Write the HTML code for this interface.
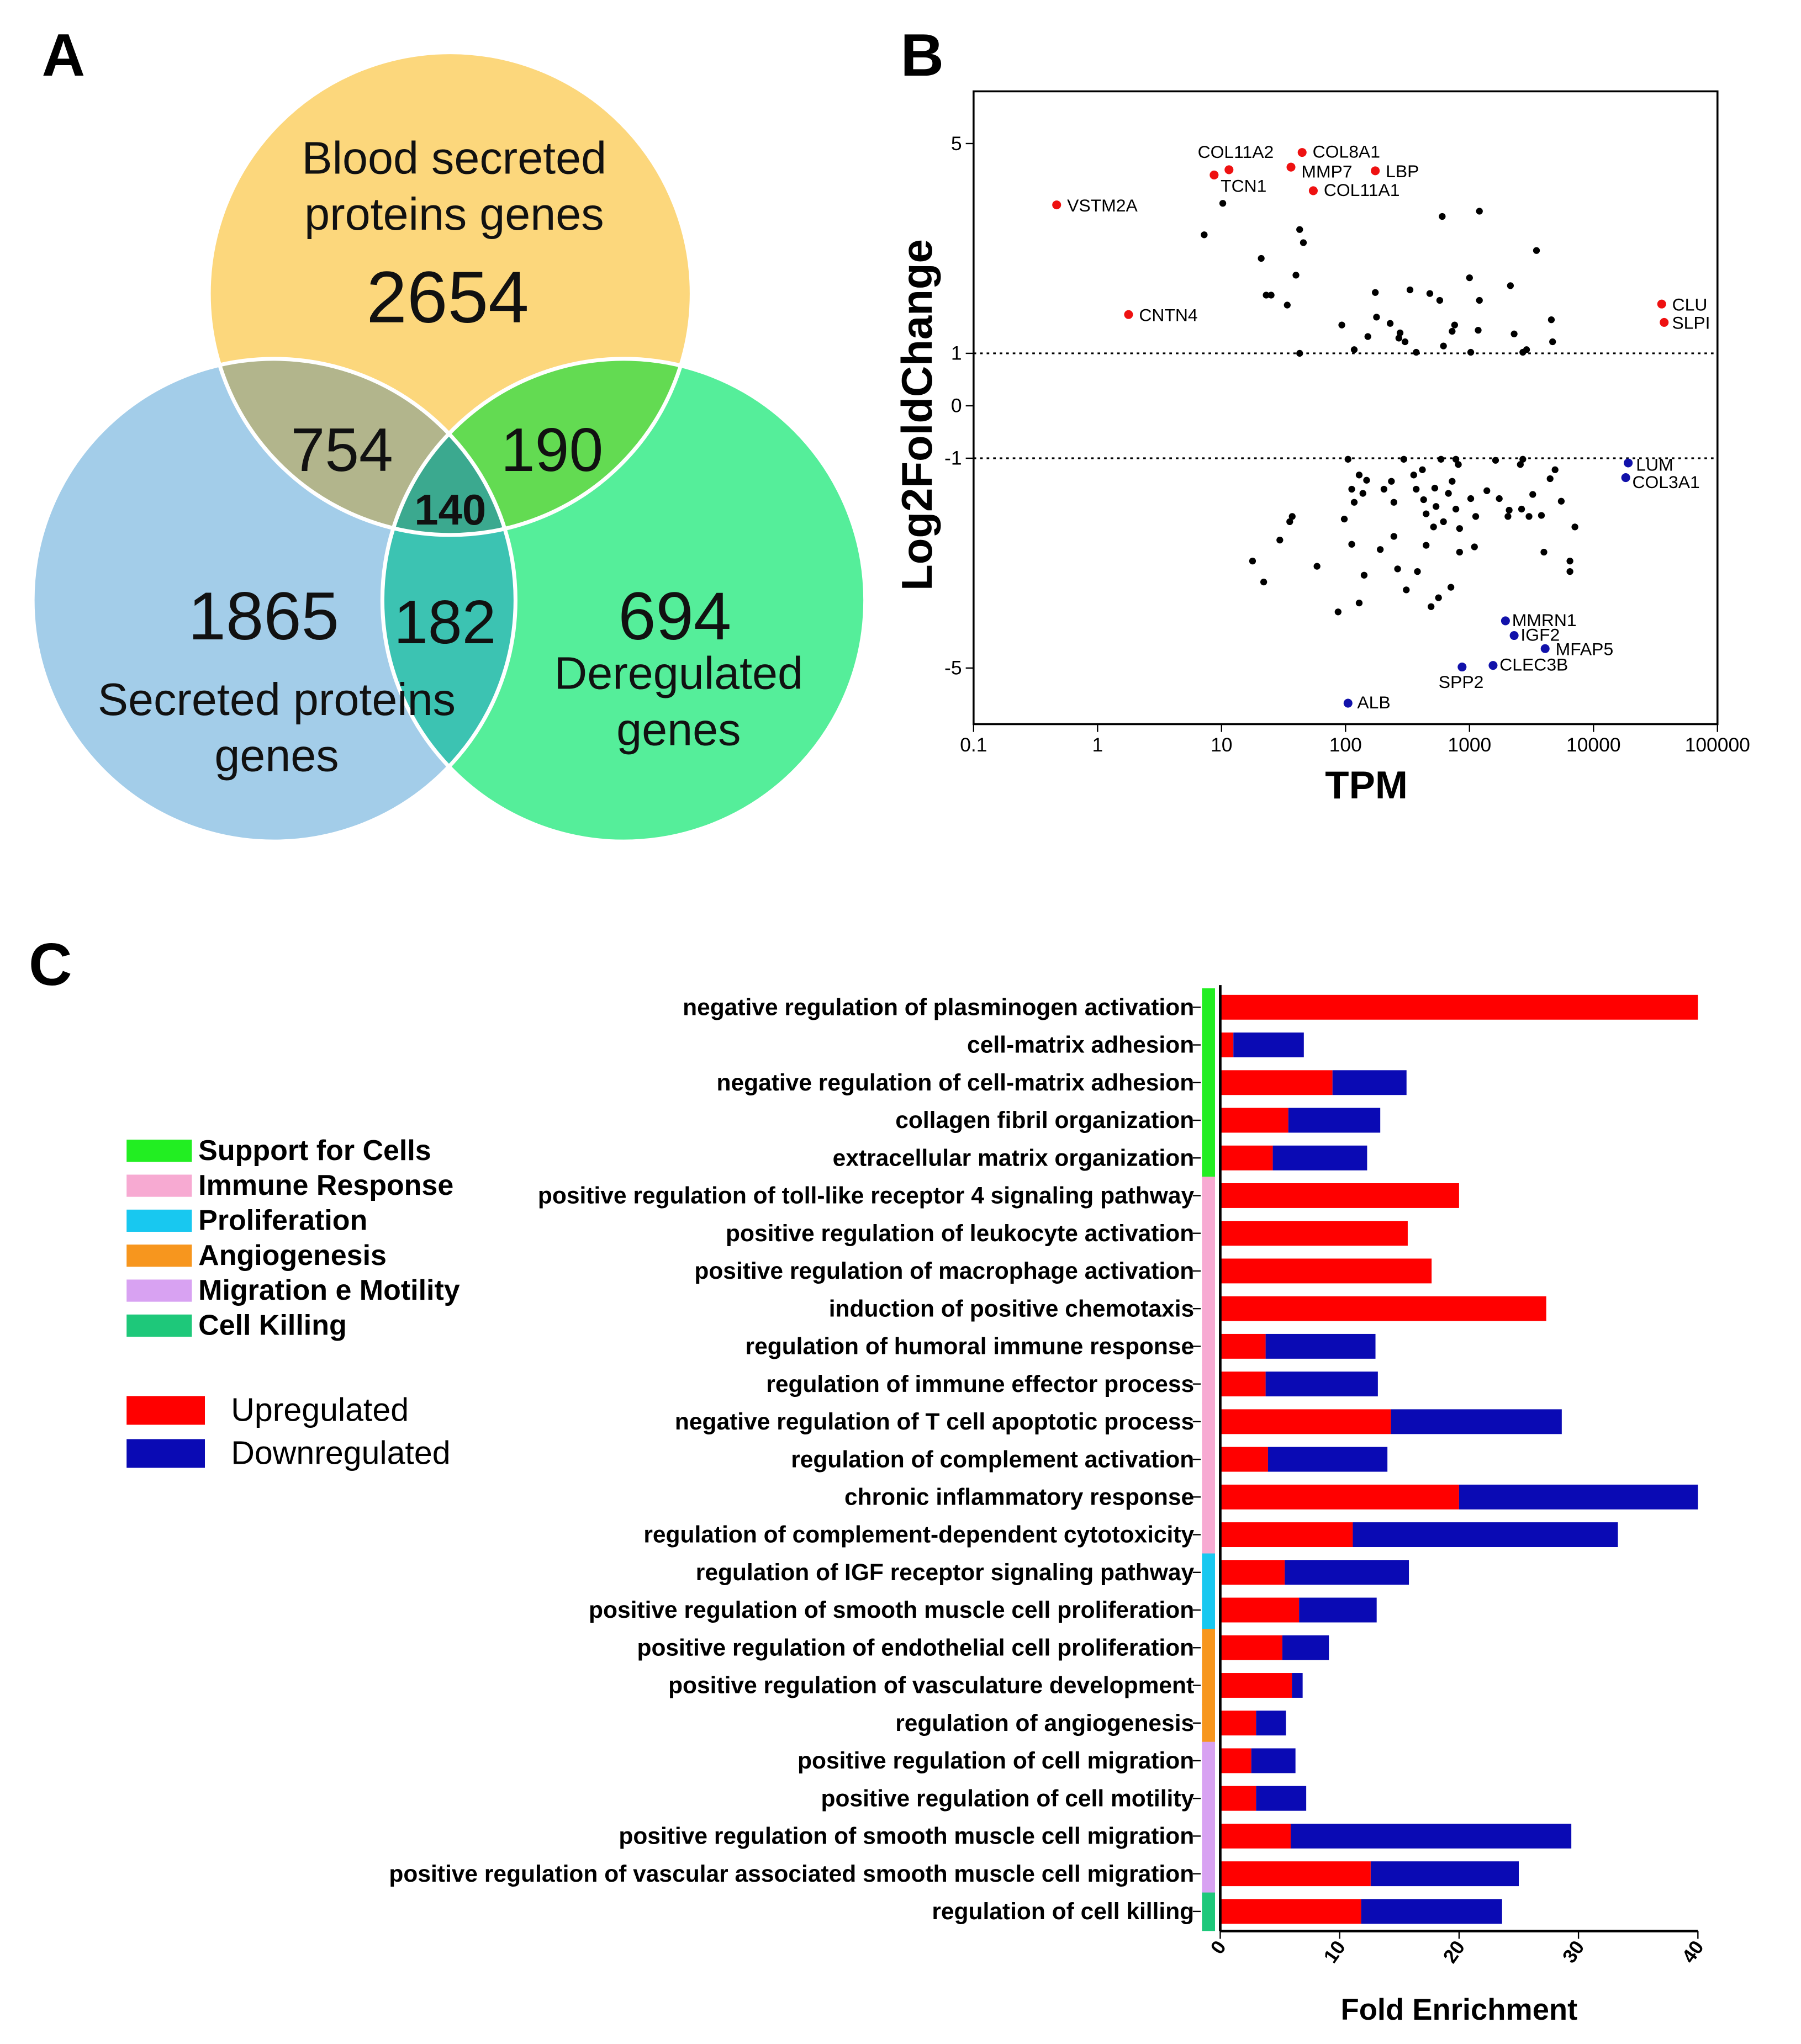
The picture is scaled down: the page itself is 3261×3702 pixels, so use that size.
<!DOCTYPE html>
<html><head><meta charset="utf-8"><style>
html,body{margin:0;padding:0;background:#fff}
svg{display:block}
text{font-family:"Liberation Sans",Arial,sans-serif}
</style></head><body>
<svg id="fig" xmlns="http://www.w3.org/2000/svg" width="3261" height="3702" viewBox="0 0 1380 1566.6">
<defs>
<clipPath id="cY"><circle cx="345" cy="225" r="185"/></clipPath>
<clipPath id="cB"><circle cx="210" cy="460" r="185"/></clipPath>
<clipPath id="cG"><circle cx="478" cy="460" r="185"/></clipPath>
</defs>
<g>
<text x="32" y="58" font-size="46" font-weight="bold">A</text>
<circle cx="345" cy="225" r="185" fill="#FCD77C"/>
<circle cx="210" cy="460" r="185" fill="#A3CDE9"/>
<circle cx="478" cy="460" r="185" fill="#55EE9A"/>
<g clip-path="url(#cY)"><circle cx="210" cy="460" r="185" fill="#B2B58C"/><circle cx="478" cy="460" r="185" fill="#63DB52"/></g>
<g clip-path="url(#cB)"><circle cx="478" cy="460" r="185" fill="#3CC3B2"/></g>
<g clip-path="url(#cY)"><g clip-path="url(#cB)"><circle cx="478" cy="460" r="185" fill="#3BA98F"/></g></g>
<g fill="none" stroke="#fff" stroke-width="3">
<circle cx="345" cy="225" r="185"/><circle cx="210" cy="460" r="185"/><circle cx="478" cy="460" r="185"/></g>
<g text-anchor="middle" fill="#111">
<text x="348" y="133" font-size="35">Blood secreted</text>
<text x="348" y="176" font-size="35">proteins genes</text>
<text x="343" y="247" font-size="56">2654</text>
<text x="262" y="361" font-size="47">754</text>
<text x="423" y="361" font-size="47">190</text>
<text x="345" y="402" font-size="33" font-weight="bold">140</text>
<text x="202" y="490" font-size="52">1865</text>
<text x="341" y="493" font-size="47">182</text>
<text x="517" y="490" font-size="52">694</text>
<text x="212" y="548" font-size="35">Secreted proteins</text>
<text x="212" y="591" font-size="35">genes</text>
<text x="520" y="528" font-size="35">Deregulated</text>
<text x="520" y="571" font-size="35">genes</text>
</g>
</g>
<g id="pb">
<text x="690" y="58" font-size="46" font-weight="bold">B</text>
<rect x="746" y="70" width="570" height="485" fill="none" stroke="#000" stroke-width="1.5"/>
<text x="1047" y="622" font-size="30" font-weight="bold" text-anchor="middle" transform="translate(0,-10)">TPM</text>
<text transform="translate(714,318) rotate(-90)" font-size="33" font-weight="bold" text-anchor="middle">Log2FoldChange</text>
</g>
<g id="pc">
<text x="22" y="755" font-size="46" font-weight="bold">C</text>
<text x="1118" y="1548" font-size="23" font-weight="bold" text-anchor="middle">Fold Enrichment</text>
</g>
</svg>
<script>
const NS="http://www.w3.org/2000/svg";
// ---- Panel B data ----
const xTicks=["0.1","1","10","100","1000","10000","100000"];
const xTickLog=[-1,0,1,2,3,4,5];
const yTicks=[5,1,0,-1,-5];
const bgLogTPM=[1.01,0.86,1.32,1.63,1.66,1.36,1.40,1.60,1.53,1.63,1.97,2.24,2.25,2.07,2.18,2.36,2.44,2.48,2.52,2.57,2.68,2.76,2.78,2.79,2.86,2.88,3.00,3.01,3.08,3.07,3.08,3.33,3.36,3.43,3.46,3.54,3.66,3.67,2.43,
2.02,2.47,2.77,2.89,2.91,3.21,3.41,3.43,3.69,2.05,2.07,2.14,2.17,2.11,2.31,2.37,2.39,2.55,2.57,2.62,2.63,2.65,2.71,2.72,2.73,2.79,2.83,2.86,2.89,2.92,3.01,3.05,3.14,3.24,3.31,3.32,3.42,3.51,3.48,3.58,3.65,3.74,3.85,1.57,1.55,1.47,1.34,1.25,1.77,1.99,2.05,2.28,2.39,2.42,2.49,2.58,2.65,2.69,2.75,2.85,2.92,3.04,3.60,3.81,3.81,1.94,2.11,2.15];
const bgLFC=[3.86,3.26,2.81,3.36,3.11,2.11,2.11,2.49,1.92,1.00,1.54,2.16,1.69,1.07,1.32,1.57,1.39,1.22,2.21,1.02,2.14,2.01,3.61,1.14,1.42,1.54,2.44,1.02,3.71,1.44,2.01,2.29,1.37,1.02,1.07,2.96,1.64,1.22,1.29,
-1.02,-1.02,-1.02,-1.02,-1.12,-1.04,-1.12,-1.02,-1.22,-1.59,-1.84,-1.67,-1.42,-1.32,-1.59,-1.44,-1.84,-1.32,-1.59,-1.22,-1.79,-2.06,-2.31,-1.57,-1.92,-2.21,-1.67,-1.44,-1.97,-2.34,-1.77,-2.11,-1.62,-1.77,-2.11,-1.99,-1.97,-1.69,-2.11,-2.09,-1.39,-1.82,-2.31,-2.11,-2.21,-2.56,-3.36,-2.96,-3.06,-2.16,-2.64,-2.74,-2.49,-3.11,-3.51,-3.16,-2.66,-3.83,-3.66,-3.46,-2.79,-2.69,-2.79,-2.96,-3.16,-3.93,-3.76,-3.23];
const geneNames=["VSTM2A","COL11A2","TCN1","COL8A1","MMP7","LBP","COL11A1","CNTN4","CLU","SLPI","LUM","COL3A1","MMRN1","IGF2","MFAP5","CLEC3B","SPP2","ALB"];
const geneLogTPM=[-0.33,1.06,0.94,1.65,1.56,2.24,1.74,0.25,4.55,4.57,4.28,4.26,3.29,3.36,3.61,3.19,2.94,2.02];
const geneLFC=[3.83,4.5,4.4,4.83,4.55,4.48,4.1,1.74,1.94,1.59,-1.09,-1.37,-4.1,-4.38,-4.63,-4.95,-4.98,-5.67];
const geneDir=["up","up","up","up","up","up","up","up","up","up","down","down","down","down","down","down","down","down"];
const labOff=[[8,5],[-24,-9],[5,13],[8,4],[8,8],[8,5],[8,4],[8,5],[8,5],[6,5],[6,6],[5,8],[5,4],[5,4],[8,5],[5,4],[-18,16],[7,4]];
const sx=l=>841+95*l, sy=v=>311-40.2*v;
const pb=document.getElementById('pb');
function mk(tag,at,parent){const e=document.createElementNS(NS,tag);for(const k in at)e.setAttribute(k,at[k]);(parent||pb).appendChild(e);return e;}
xTickLog.forEach((l,i)=>{
 const t=mk('line',{x1:sx(l),x2:sx(l),y1:555,y2:561,stroke:'#000'});
 
 
 const tx=mk('text',{x:sx(l),y:576,'font-size':15,'text-anchor':'middle'});tx.textContent=xTicks[i];
 
 
});
yTicks.forEach(v=>{
 mk('line',{x1:740,x2:746,y1:sy(v),y2:sy(v),stroke:'#000'});
 const tx=mk('text',{x:737,y:sy(v)+5,'font-size':15,'text-anchor':'end'});tx.textContent=v;
 
 
});
[1,-1].forEach(v=>{const l=mk('line',{x1:746,x2:1316,y1:sy(v),y2:sy(v),stroke:'#000','stroke-width':1.3,'stroke-dasharray':'2,3'});
 
 });
bgLogTPM.forEach((l,i)=>{const c=mk('circle',{cx:sx(l),cy:sy(bgLFC[i]),r:2.6,fill:'#000'});
 
 });
geneNames.forEach((g,i)=>{
 const c=mk('circle',{cx:sx(geneLogTPM[i]),cy:sy(geneLFC[i]),r:3.4,fill:geneDir[i]=='up'?'#ee1111':'#1111aa'});
 
 
 const t=mk('text',{x:sx(geneLogTPM[i])+labOff[i][0],y:sy(geneLFC[i])+labOff[i][1],'font-size':13.5});t.textContent=g;
 
 
});
// ---- Panel C data ----
const terms=["negative regulation of plasminogen activation","cell-matrix adhesion","negative regulation of cell-matrix adhesion","collagen fibril organization","extracellular matrix organization","positive regulation of toll-like receptor 4 signaling pathway","positive regulation of leukocyte activation","positive regulation of macrophage activation","induction of positive chemotaxis","regulation of humoral immune response","regulation of immune effector process","negative regulation of T cell apoptotic process","regulation of complement activation","chronic inflammatory response","regulation of complement-dependent cytotoxicity","regulation of IGF receptor signaling pathway","positive regulation of smooth muscle cell proliferation","positive regulation of endothelial cell proliferation","positive regulation of vasculature development","regulation of angiogenesis","positive regulation of cell migration","positive regulation of cell motility","positive regulation of smooth muscle cell migration","positive regulation of vascular associated smooth muscle cell migration","regulation of cell killing"];
const upVals=[40,1.1,9.4,5.7,4.4,20,15.7,17.7,27.3,3.8,3.8,14.3,4,20,11.1,5.4,6.6,5.2,6,3,2.6,3,5.9,12.6,11.8];
const downVals=[0,5.9,6.2,7.7,7.9,0,0,0,0,9.2,9.4,14.3,10,20,22.2,10.4,6.5,3.9,0.9,2.5,3.7,4.2,23.5,12.4,11.8];
const groups=["Support for Cells","Support for Cells","Support for Cells","Support for Cells","Support for Cells","Immune Response","Immune Response","Immune Response","Immune Response","Immune Response","Immune Response","Immune Response","Immune Response","Immune Response","Immune Response","Proliferation","Proliferation","Angiogenesis","Angiogenesis","Angiogenesis","Migration e Motility","Migration e Motility","Migration e Motility","Migration e Motility","Cell Killing"];
const groupNames=["Support for Cells","Immune Response","Proliferation","Angiogenesis","Migration e Motility","Cell Killing"];
const groupColors=["#22EE22","#F7AAD2","#18C8F0","#F7961E","#D8A2F2","#1EC87A"];
const fTicks=[0,10,20,30,40];
const pc=document.getElementById('pc');
const fx=v=>935+9.15*v, ry=i=>772+28.875*i;
terms.forEach((t,i)=>{
 const y=ry(i);
 const gc=groupColors[groupNames.indexOf(groups[i])];
 const s=mk('rect',{x:921,y:y-14.5,width:10,height:29.5,fill:gc},pc);
 
 
 mk('line',{x1:914,x2:920,y1:y,y2:y,stroke:'#000'},pc);
 const tx=mk('text',{x:915,y:y+6,'font-size':18,'font-weight':'bold','text-anchor':'end'},pc);tx.textContent=t;
 
 
 const r=mk('rect',{x:fx(0),y:y-9.5,width:fx(upVals[i])-fx(0),height:19,fill:'#ff0000'},pc);
 
 
 if(downVals[i]>0){const b=mk('rect',{x:fx(upVals[i]),y:y-9.5,width:fx(upVals[i]+downVals[i])-fx(upVals[i]),height:19,fill:'#0a0ab4'},pc);
 
 }
});
mk('line',{x1:935,x2:935,y1:755,y2:1480,stroke:'#000','stroke-width':2},pc);
mk('line',{x1:935,x2:1301,y1:1480,y2:1480,stroke:'#000','stroke-width':2},pc);
fTicks.forEach(v=>{
 mk('line',{x1:fx(v),x2:fx(v),y1:1480,y2:1486,stroke:'#000'},pc);
 const tx=mk('text',{transform:`translate(${fx(v)+5},${1492}) rotate(-55)`,'font-size':15,'font-weight':'bold','text-anchor':'end'},pc);tx.textContent=v;
 
 
});
groupNames.forEach((g,i)=>{
 const y=882+26.8*i;
 const r=mk('rect',{x:97,y:y-8.5,width:50,height:17,fill:groupColors[i]},pc);
 
 
 const t=mk('text',{x:152,y:y+7,'font-size':22,'font-weight':'bold'},pc);t.textContent=g;
 
 
});
[["Upregulated","#ff0000",1081],["Downregulated","#0a0ab4",1114]].forEach(d=>{
 const r=mk('rect',{x:97,y:d[2]-11,width:60,height:22,fill:d[1]},pc);
 
 
 const t=mk('text',{x:177,y:d[2]+8,'font-size':25},pc);t.textContent=d[0];
 
 
});
</script>
</body></html>
